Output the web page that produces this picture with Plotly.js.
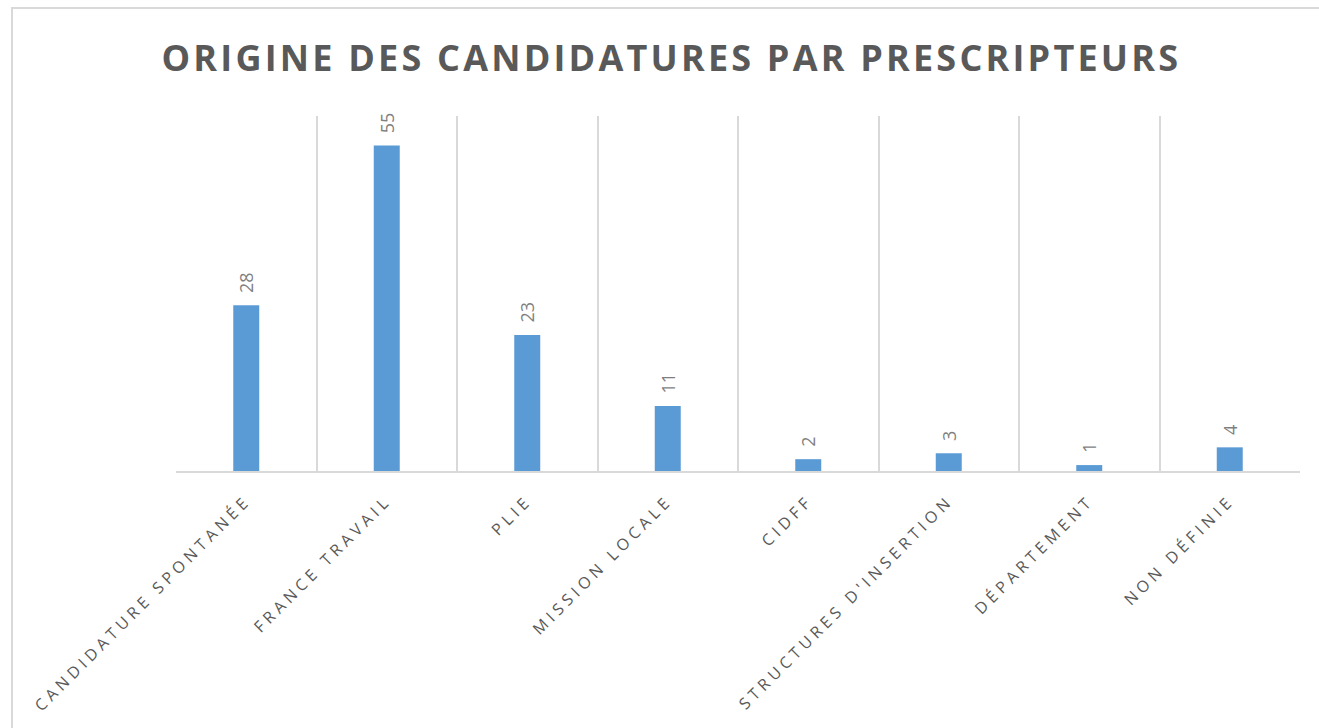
<!DOCTYPE html>
<html>
<head>
<meta charset="utf-8">
<script src="https://cdn.plot.ly/plotly-3.0.1.min.js"></script>
<style>
  html, body { margin: 0; padding: 0; background: #ffffff; overflow: hidden; }
  #chart { width: 1319px; height: 728px; }
  #frame { position: absolute; left: 11px; top: 7px; width: 1400px; height: 800px;
           border: 2px solid #d9d9d9; pointer-events: none; box-sizing: border-box; }
  .gtitle { letter-spacing: 3.2px; }
  .xtick text { letter-spacing: 4.4px; }
</style>
</head>
<body>
<div id="chart"></div>
<div id="frame"></div>
<script>
const categories = [
  "CANDIDATURE SPONTANÉE",
  "FRANCE TRAVAIL",
  "PLIE",
  "MISSION LOCALE",
  "CIDFF",
  "STRUCTURES D'INSERTION",
  "DÉPARTEMENT",
  "NON DÉFINIE"
];
const values = [28, 55, 23, 11, 2, 3, 1, 4];
const chartTitle = "ORIGINE DES CANDIDATURES PAR PRESCRIPTEURS";

const trace = {
  type: "bar",
  x: categories,
  y: values,
  marker: { color: "#5b9bd5" },
  text: values.map(v => "\u00a0\u00a0" + v),
  textposition: "outside",
  textangle: -90,
  constraintext: "none",
  cliponaxis: false,
  textfont: { family: "Open Sans, sans-serif", size: 18, color: "#7f7f7f" },
  hoverinfo: "x+y"
};

const layout = {
  width: 1319,
  height: 728,
  margin: { l: 176, r: 19, t: 116, b: 257 },
  paper_bgcolor: "#ffffff",
  plot_bgcolor: "#ffffff",
  showlegend: false,
  bargap: 0.815,
  uniformtext: { mode: false },
  title: {
    text: "<b>" + chartTitle + "</b>",
    font: { family: "Open Sans, sans-serif", size: 36, color: "#595959" },
    x: 0.509, xanchor: "center",
    y: 0.92, yref: "container", yanchor: "middle"
  },
  xaxis: {
    type: "category",
    tickson: "boundaries",
    showgrid: true,
    gridcolor: "#d9d9d9",
    gridwidth: 1.5,
    showline: true,
    linecolor: "#d9d9d9",
    linewidth: 2,
    ticks: "",
    tickangle: -45,
    ticklabelstandoff: 12,
    tickfont: { family: "Open Sans, sans-serif", size: 16, color: "#595959" },
    fixedrange: true
  },
  yaxis: {
    range: [0, 60],
    showgrid: false,
    zeroline: false,
    showline: false,
    showticklabels: false,
    ticks: "",
    fixedrange: true
  }
};

Plotly.newPlot("chart", [trace], layout, { displayModeBar: false });
</script>
</body>
</html>
